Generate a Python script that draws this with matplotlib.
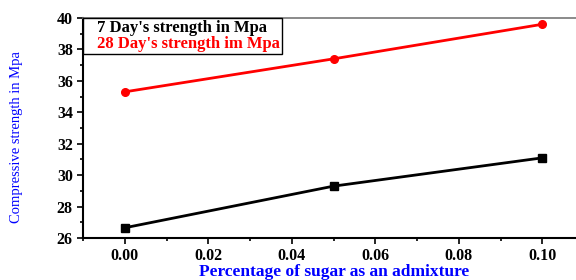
import matplotlib
matplotlib.use("Agg")
import matplotlib.pyplot as plt
from matplotlib.ticker import MultipleLocator, FormatStrFormatter
from matplotlib.lines import Line2D

sugar = [0.00, 0.05, 0.10]
strength_7 = [26.65, 29.3, 31.1]
strength_28 = [35.3, 37.4, 39.6]
labels = ["7 Day's strength in Mpa", "28 Day's strength im Mpa"]

plt.rcParams['font.family'] = ['Liberation Serif', 'DejaVu Serif']
fig = plt.figure(figsize=(5.76, 2.8), dpi=100)
ax = fig.add_axes([83/576, 42/280, (584-83)/576, 220/280])

ax.plot(sugar, strength_7, color='black', marker='s', markersize=5.5, linewidth=2)
ax.plot(sugar, strength_28, color='red', marker='o', markersize=5.5, linewidth=2)

ax.set_xlim(-0.01, 0.11)
ax.set_ylim(26, 40)
ax.xaxis.set_major_locator(MultipleLocator(0.02))
ax.xaxis.set_minor_locator(MultipleLocator(0.01))
ax.yaxis.set_major_locator(MultipleLocator(2))
ax.yaxis.set_minor_locator(MultipleLocator(1))
ax.xaxis.set_major_formatter(FormatStrFormatter('%.2f'))
ax.tick_params(which='both', direction='out', width=1.2, labelsize=11.5)
ax.tick_params(which='major', length=4.3, pad=3)
ax.tick_params(which='minor', length=2.2)
for lab in ax.get_xticklabels() + ax.get_yticklabels():
    lab.set_fontweight('bold')
ax.spines['left'].set_linewidth(1.5)
ax.spines['bottom'].set_linewidth(1.5)
ax.spines['top'].set_color('#777777')
ax.spines['top'].set_linewidth(1.2)

ax.set_xlabel("Percentage of sugar as an admixture", color='blue', fontweight='bold', fontsize=12.5)
ax.xaxis.label.set_va('center')
ax.xaxis.set_label_coords((334-83)/501, -34/220)
ax.set_ylabel("Compressive strength in Mpa", color='blue', fontsize=10.5)
ax.yaxis.label.set_va('center')
ax.yaxis.set_label_coords((17-83)/501, (280-137-42)/220)

handles = [Line2D([], [], linestyle='none') for _ in labels]
leg = ax.legend(handles, labels, loc='upper left', handlelength=0.5, handletextpad=0.2,
                borderaxespad=0, fancybox=False, framealpha=1, edgecolor='black',
                prop={'weight': 'bold', 'size': 12}, borderpad=0.12, labelspacing=0.0)
leg.get_frame().set_linewidth(1.0)
for t, c in zip(leg.get_texts(), ['black', 'red']):
    t.set_color(c)

fig.savefig("out.png", dpi=100)
